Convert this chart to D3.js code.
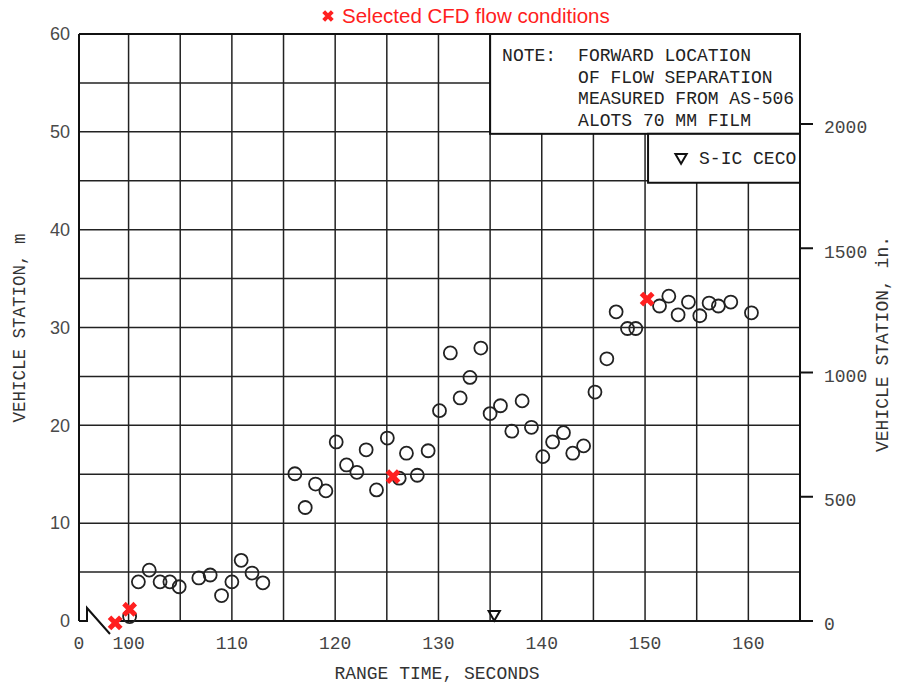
<!DOCTYPE html>
<html>
<head>
<meta charset="UTF-8">
<title>Flow separation</title>
<style>
    body { margin: 0; background: #fff; }
    .tick-sans { font: 18px "Liberation Sans", Arial, sans-serif; fill: #4a4a4a; }
    .mono { font-family: "Liberation Mono", "DejaVu Sans Mono", monospace; }
</style>
</head>
<body>
<script src="https://cdn.jsdelivr.net/npm/d3@7"></script>
<script>
// Donnees (temps en s, station en m)
var times = [100.1, 100.95, 102.0, 103.05, 104.0, 104.9, 106.8, 107.9, 109.0, 110.0, 110.9, 111.95, 113.0,
    116.1, 117.1, 118.1, 119.1, 120.1, 121.1, 122.1, 123.0, 124.0, 125.05, 126.2, 126.9, 127.95, 129.0,
    130.1, 131.15, 132.1, 133.05, 134.1, 135.0, 136.0, 137.1, 138.1, 139.0, 140.1, 141.05, 142.1, 143.0,
    144.05, 145.15, 146.3, 147.2, 148.3, 149.1, 151.4, 152.3, 153.2, 154.2, 155.3, 156.2, 157.1, 158.3, 160.3];
var stations = [0.45, 4.0, 5.2, 4.0, 4.0, 3.5, 4.4, 4.7, 2.6, 4.0, 6.2, 4.9, 3.9,
    15.05, 11.6, 14.0, 13.3, 18.3, 15.95, 15.2, 17.5, 13.4, 18.7, 14.6, 17.15, 14.9, 17.4,
    21.5, 27.4, 22.8, 24.9, 27.9, 21.2, 22.0, 19.4, 22.5, 19.8, 16.8, 18.3, 19.25, 17.15,
    17.9, 23.4, 26.8, 31.6, 29.9, 29.9, 32.2, 33.2, 31.3, 32.6, 31.2, 32.5, 32.2, 32.6, 31.5];

// Conditions CFD choisies
var cfdTimes = [98.7, 100.1, 125.6, 150.2];
var cfdStations = [-0.2, 1.2, 14.75, 32.9];

// S-IC CECO
var cecoTimes = [135.4];
var cecoStations = [0.7];

var xTicks = [100, 110, 120, 130, 140, 150, 160];
var xGrid = [100, 105, 110, 115, 120, 125, 130, 135, 140, 145, 150, 155, 160];
var yTicks = [0, 10, 20, 30, 40, 50, 60];
var yGrid = [5, 10, 15, 20, 25, 30, 35, 40, 45, 50, 55];
var inTicks = [0, 500, 1000, 1500, 2000];

var noteLines = ["FORWARD LOCATION", "OF FLOW SEPARATION", "MEASURED FROM AS-506", "ALOTS 70 MM FILM"];

var width = 897, height = 688;
var pLeft = 79, pRight = 800, pTop = 34, pBottom = 621;

var x = d3.scaleLinear().domain([95.2, 165]).range([pLeft, pRight]);
var y = d3.scaleLinear().domain([0, 60]).range([pBottom, pTop]);
var yIn = d3.scaleLinear().domain([0, 60 / 0.0254]).range([pBottom, pTop]);

var svg = d3.select("body").append("svg")
    .attr("width", width)
    .attr("height", height);

// Grille
var grid = svg.append("g").attr("stroke", "#222").attr("stroke-width", 1.5);
grid.selectAll(".vg").data(xGrid).enter().append("line")
    .attr("x1", function(d) { return x(d); })
    .attr("x2", function(d) { return x(d); })
    .attr("y1", pTop).attr("y2", pBottom);
grid.selectAll(".hg").data(yGrid).enter().append("line")
    .attr("x1", pLeft).attr("x2", pRight)
    .attr("y1", function(d) { return y(d); })
    .attr("y2", function(d) { return y(d); });

// Cadre
var frame = svg.append("g").attr("stroke", "#111").attr("stroke-width", 2).attr("fill", "none");
frame.append("line").attr("x1", pLeft).attr("x2", pRight).attr("y1", pTop).attr("y2", pTop);
frame.append("line").attr("x1", pLeft).attr("x2", pLeft).attr("y1", pTop).attr("y2", pBottom);
frame.append("line").attr("x1", pRight).attr("x2", pRight).attr("y1", pTop).attr("y2", pBottom);
frame.append("line").attr("x1", pLeft + 33).attr("x2", pRight + 12).attr("y1", pBottom).attr("y2", pBottom);
// rupture d'axe
frame.append("path")
    .attr("d", "M" + pLeft + "," + pBottom + "H" + (pLeft + 8) + "V" + (pBottom - 13) + "L" + (pLeft + 31) + "," + (pBottom + 13));

// Ticks de droite (pouces)
svg.append("g").selectAll("line").data(inTicks).enter().append("line")
    .attr("x1", pRight).attr("x2", pRight + 13)
    .attr("y1", function(d) { return yIn(d); })
    .attr("y2", function(d) { return yIn(d); })
    .attr("stroke", "#111").attr("stroke-width", 2);
svg.append("g").selectAll("text").data(inTicks).enter().append("text")
    .attr("class", "mono")
    .attr("x", pRight + 24)
    .attr("y", function(d) { return yIn(d) + 3; })
    .attr("dy", "0.35em")
    .style("font-size", "18px").style("fill", "#444")
    .text(function(d) { return d; });

// Labels axe gauche
svg.append("g").selectAll("text").data(yTicks).enter().append("text")
    .attr("class", "tick-sans")
    .attr("x", 70)
    .attr("y", function(d) { return y(d); })
    .attr("dy", "0.35em")
    .attr("text-anchor", "end")
    .text(function(d) { return d; });

// Labels axe x
svg.append("g").selectAll("text").data(xTicks).enter().append("text")
    .attr("class", "mono")
    .attr("x", function(d) { return x(d); })
    .attr("y", 649)
    .attr("text-anchor", "middle")
    .style("font-size", "18px").style("fill", "#444")
    .text(function(d) { return d; });
svg.append("text").attr("class", "mono")
    .attr("x", pLeft).attr("y", 649).attr("text-anchor", "middle")
    .style("font-size", "18px").style("fill", "#444")
    .text("0");

// Titres des axes
svg.append("text").attr("class", "mono")
    .attr("x", 437).attr("y", 679).attr("text-anchor", "middle")
    .style("font-size", "18px").style("fill", "#333")
    .text("RANGE TIME, SECONDS");
svg.append("text").attr("class", "mono")
    .attr("transform", "translate(25,328) rotate(-90)")
    .attr("text-anchor", "middle")
    .style("font-size", "17.5px").style("fill", "#333")
    .text("VEHICLE STATION, m");
svg.append("text").attr("class", "mono")
    .attr("transform", "translate(888,344) rotate(-90)")
    .attr("text-anchor", "middle")
    .style("font-size", "18px").style("fill", "#333")
    .text("VEHICLE STATION, in.");

// Boite de note
svg.append("rect")
    .attr("x", x(135)).attr("y", pTop)
    .attr("width", pRight - x(135)).attr("height", y(50) - pTop + 2)
    .attr("fill", "#fff").attr("stroke", "#111").attr("stroke-width", 2);
svg.append("text").attr("class", "mono")
    .attr("x", x(135) + 12).attr("y", 61)
    .style("font-size", "18px").style("fill", "#222")
    .text("NOTE:");
svg.append("g").selectAll("text").data(noteLines).enter().append("text")
    .attr("class", "mono")
    .attr("x", x(135) + 88)
    .attr("y", function(d, i) { return 61 + i * 21.5; })
    .style("font-size", "18px").style("fill", "#222")
    .text(function(d) { return d; });

// Legende CECO
svg.append("rect")
    .attr("x", x(150) + 3).attr("y", y(50) + 2)
    .attr("width", pRight - x(150) - 3).attr("height", y(45) - y(50))
    .attr("fill", "#fff").attr("stroke", "#111").attr("stroke-width", 2);
svg.append("path")
    .attr("d", d3.symbol().type(d3.symbolTriangle).size(55)())
    .attr("transform", "translate(" + (x(150) + 36) + "," + (y(47.5) + 1) + ") rotate(180)")
    .attr("fill", "none").attr("stroke", "#111").attr("stroke-width", 2);
svg.append("text").attr("class", "mono")
    .attr("x", x(150) + 54).attr("y", y(47.5) + 8)
    .style("font-size", "18px").style("fill", "#222")
    .text("S-IC CECO");

// Points mesures
svg.append("g").selectAll("circle").data(times).enter().append("circle")
    .attr("cx", function(d) { return x(d); })
    .attr("cy", function(d, i) { return y(stations[i]); })
    .attr("r", 6.5)
    .attr("fill", "none")
    .attr("stroke", "#222")
    .attr("stroke-width", 1.8);

// CECO
svg.append("g").selectAll("path").data(cecoTimes).enter().append("path")
    .attr("d", d3.symbol().type(d3.symbolTriangle).size(55)())
    .attr("transform", function(d, i) { return "translate(" + x(d) + "," + y(cecoStations[i]) + ") rotate(180)"; })
    .attr("fill", "none").attr("stroke", "#111").attr("stroke-width", 2);

// Croix rouges
var cross = d3.symbol().type(d3.symbolX).size(85);
svg.append("g").selectAll("path").data(cfdTimes).enter().append("path")
    .attr("d", cross())
    .attr("transform", function(d, i) { return "translate(" + x(d) + "," + y(cfdStations[i]) + ")"; })
    .attr("fill", "none").attr("stroke", "#ff2020").attr("stroke-width", 5);

// Titre
svg.append("path")
    .attr("d", d3.symbol().type(d3.symbolX).size(50)())
    .attr("transform", "translate(328,16)")
    .attr("fill", "none").attr("stroke", "#ff2020").attr("stroke-width", 4);
svg.append("text")
    .attr("x", 342).attr("y", 23)
    .style("font", "20.5px 'Liberation Sans', Arial, sans-serif")
    .style("fill", "#ff2020")
    .text("Selected CFD flow conditions");
</script>
</body>
</html>
